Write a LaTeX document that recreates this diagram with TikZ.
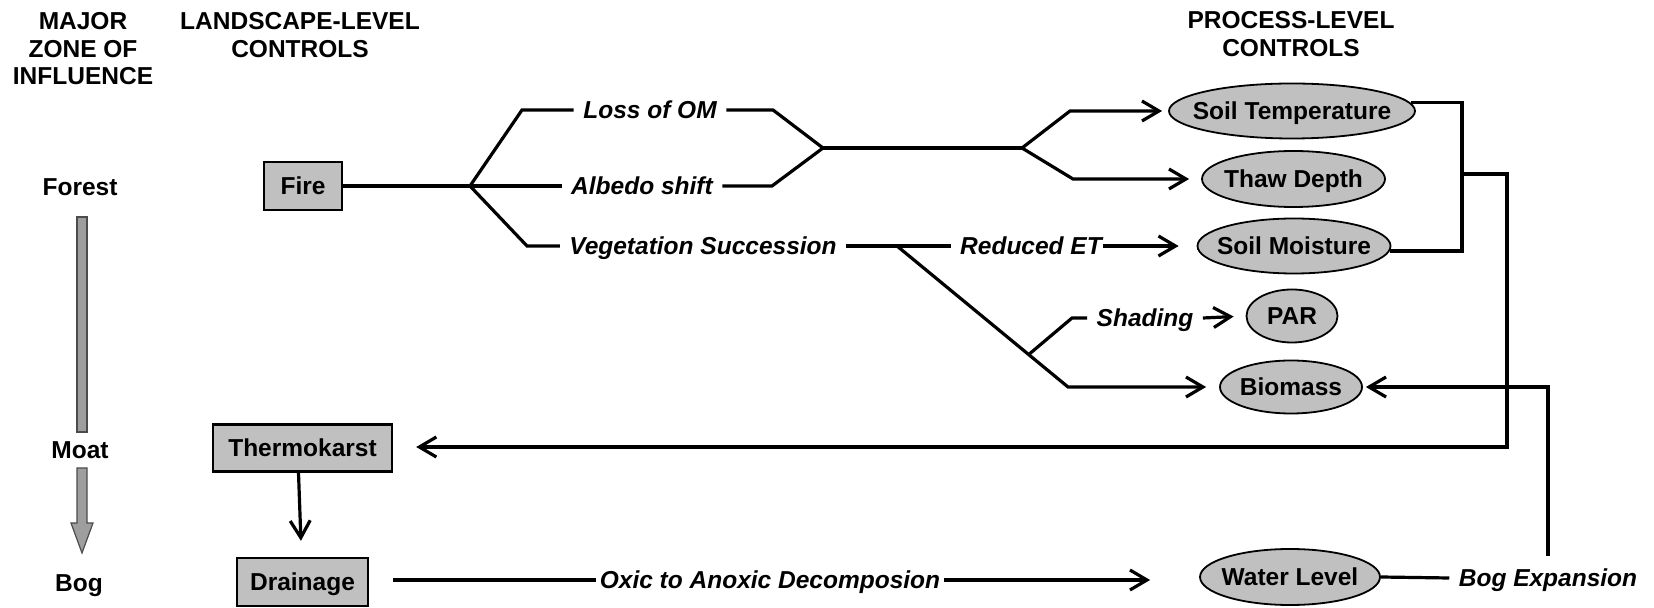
\documentclass[tikz,border=0pt]{standalone}
\usepackage{fontspec}
\setmainfont{Liberation Sans}
\usetikzlibrary{arrows.meta,shapes.geometric,calc}
\definecolor{boxgray}{RGB}{192,192,192}
\definecolor{arrgray}{RGB}{158,158,158}
\newcommand{\zw}[1]{\makebox[0pt]{#1}}
\begin{document}
\begin{tikzpicture}[x=0.5pt,y=-0.5pt, line width=1.6pt,
  every node/.style={font=\fontsize{12.25}{13.75}\selectfont\bfseries},
  hdr/.style={align=center, inner sep=0pt},
  one/.style={text height=8.8pt, text depth=0pt},
  zone/.style={one, inner sep=0pt},
  ctrl/.style={one, draw, line width=1.2pt, fill=boxgray, minimum height=24pt, inner sep=0pt},
  proc/.style={one, ellipse, draw, line width=0.9pt, fill=boxgray, inner sep=0pt},
  lbl/.style={one, font=\fontsize{12.25}{13.75}\selectfont\bfseries\itshape, inner xsep=4pt, inner ysep=0pt},
  arr/.style={-{Straight Barb[length=8.5pt,width=10pt]}},
]
\useasboundingbox (0,0) rectangle (1654,608);

% headers
\node[hdr] (hzone) at (83,49) {MAJOR\\ZONE OF\\INFLUENCE};
\node[hdr] (hland) at (300,35) {LANDSCAPE-LEVEL\\CONTROLS};
\node[hdr] (hproc) at (1291,34) {PROCESS-LEVEL\\CONTROLS};

% zones
\node[zone] (forest) at (80,187) {Forest};
\node[zone] (moat) at (80,450) {Moat};
\node[zone] (bog) at (79,583) {Bog};
\fill[arrgray, draw=black!70, line width=0.6pt] (77,217) rectangle (87,432);
\filldraw[fill=arrgray, draw=black!70, line width=0.6pt] (77,468) -- (77,523) -- (71,523) -- (82,553) -- (93,523) -- (87,523) -- (87,468) -- cycle;

% landscape controls
\node[ctrl, minimum width=39pt] (fire) at (303,186) {Fire};
\node[ctrl, minimum width=89.5pt, minimum height=23.5pt] (thermo) at (302.5,448) {Thermokarst};
\node[ctrl, minimum width=65.5pt] (drain) at (302.5,582) {Drainage};

% process controls
\node[proc, minimum width=123pt, minimum height=27.5pt] (st) at (1292,111) {\zw{Soil Temperature}};
\node[proc, minimum width=91.5pt, minimum height=28pt] (td) at (1293.5,179) {\zw{Thaw Depth}};
\node[proc, minimum width=96.5pt, minimum height=27.5pt] (sm) at (1294,246) {\zw{Soil Moisture}};
\node[proc, minimum width=45.5pt, minimum height=26.5pt] (par) at (1292,316) {\zw{PAR}};
\node[proc, minimum width=71pt, minimum height=26.5pt] (bio) at (1291,387) {\zw{Biomass}};
\node[proc, minimum width=90pt, minimum height=28pt] (wl) at (1290,577) {\zw{Water Level}};

% labels
\node[lbl] (loss) at (650,110) {Loss of OM};
\node[lbl] (albedo) at (642,186) {Albedo shift};
\node[lbl] (veg) at (703,246) {Vegetation Succession};
\node[lbl] (ret) at (1031,246) {Reduced ET};
\node[lbl] (shade) at (1145,318) {Shading};
\node[lbl, inner xsep=1pt] (oxic) at (770,580) {Oxic to Anoxic Decomposion};
\node[lbl] (bogexp) at (1548,578) {Bog Expansion};

% junctions
\coordinate (b1) at (470,186);
\coordinate (m1) at (823,148);
\coordinate (s1) at (1022,148);
\coordinate (b2) at (897,246);
\coordinate (b4) at (1068,387);
\coordinate (b3) at ($(b2)!0.77!(b4)$);
\coordinate (j1) at (1462,174);
\coordinate (j2) at (1507,447);

% connectors
\draw (fire) -- (b1);
\draw (b1) -- (522,110) -- (loss.west);
\draw (loss.east) -- (773,110) -- (m1);
\draw (b1) -- (albedo.west);
\draw (albedo.east) -- (772,186) -- (m1);
\draw (b1) -- (527,246) -- (veg.west);
\draw (m1) -- (s1);
\draw[arr, shorten >=3pt] (s1) -- (1070,111) -- (st.west);
\draw[arr, shorten >=6pt] (s1) -- (1073,179) -- (td.west);
\draw (veg.east) -- (ret.west);
\draw[arr, shorten <=-4pt, shorten >=9pt] (ret.east) -- (sm.west);
\draw[arr, shorten >=6.5pt] (b2) -- (b4) -- (bio.west);
\draw (b3) -- (1072,318) -- (shade.west);
\draw[arr, shorten >=6pt] (shade.east) -- (par.west);
\draw (st.4) -| (j1);
\draw (sm.-3) -| (j1);
\draw[arr, shorten >=11.5pt] (j1) -| (j2) -- (j2 -| thermo.east);
\draw[arr, shorten >=8pt] ([xshift=-2pt]thermo.south) -- ([xshift=-0.5pt]drain.north);
\draw[shorten <=12pt] (drain.east |- oxic.west) -- (oxic.west);
\draw[arr, shorten >=24.5pt] (oxic.east) -- (oxic.east -| wl.west);
\draw (wl.east) -- (bogexp.west);
\draw[arr, shorten >=1.5pt] ([yshift=6pt]bogexp.north) |- (bio.east);
\end{tikzpicture}
\end{document}
